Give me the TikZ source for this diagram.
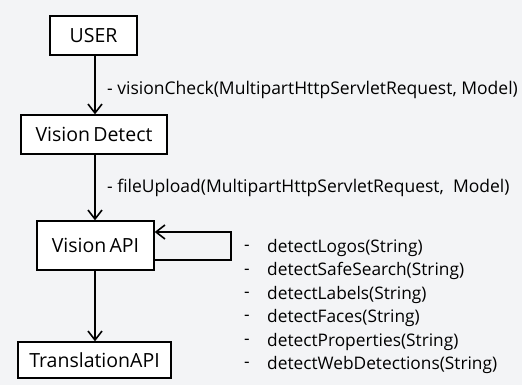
\documentclass[tikz,border=0pt]{standalone}
\usepackage{fontspec}
\setmainfont{Open Sans}
\usetikzlibrary{arrows.meta}
\definecolor{bg}{RGB}{243,244,246}
\begin{document}
\begin{tikzpicture}[x=1pt,y=-1pt,
  box/.style={draw=black, line width=1.3pt, fill=white, inner sep=0pt, font=\fontsize{19.5}{22}\selectfont},
  conn/.style={line width=1.6pt, -{Straight Barb[length=9pt,width=14pt,line width=1.6pt]}},
  lbl/.style={anchor=west, inner sep=0pt, font=\fontsize{17.5}{20}\selectfont},
  item/.style={anchor=west, inner sep=0pt, font=\fontsize{17.3}{20}\selectfont}]
\fill[bg] (0,0) rectangle (522,385);
\useasboundingbox (0,0) rectangle (522,385);
\node[box, minimum width=87pt, minimum height=39pt] (user) at (93.5,35.5) {USER};
\node[box, minimum width=146pt, minimum height=39pt] (vd) at (94,134.5) {Vision\,Detect};
\node[box, minimum width=117pt, minimum height=49pt] (api) at (95.5,245.5) {Vision\,API};
\node[box, minimum width=153pt, minimum height=36pt] (tr) at (94.5,360) {TranslationAPI};
\draw[conn] (user.south -| 95,0) -- (vd.north -| 95,0);
\draw[conn] (vd.south -| 95,0) -- (api.north -| 95,0);
\draw[conn] (api.south -| 95,0) -- (tr.north -| 95,0);
\coordinate (la) at (231,260);
\coordinate (lb) at (231,232);
\draw[conn] (api.east |- la) -- (la) -- (lb) -- (api.east |- lb);
\node[lbl] (c1) at (107,90) {- visionCheck(MultipartHttpServletRequest, Model)};
\node[lbl] (c2) at (107,188) {- fileUpload(MultipartHttpServletRequest,\ \ Model)};
\foreach \t [count=\i] in {detectLogos(String),detectSafeSearch(String),detectLabels(String),detectFaces(String),detectProperties(String),detectWebDetections(String)}{
  \node[item] (d\i) at (244,{248+23.4*(\i-1)}) {-};
  \node[item] (m\i) at (267,{248+23.4*(\i-1)}) {\t};
}
\end{tikzpicture}
\end{document}
